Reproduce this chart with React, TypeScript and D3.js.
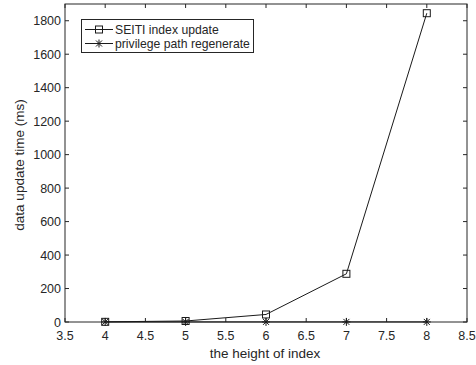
import React from "react";
import * as d3 from "d3";

const heights = [4, 5, 6, 7, 8];
const seitiUpdate = [1, 6, 45, 288, 1845];
const privilegeRegen = [0.5, 0.5, 0.5, 0.5, 0.5];
const xTicks = [3.5, 4, 4.5, 5, 5.5, 6, 6.5, 7, 7.5, 8, 8.5];
const yTicks = [0, 200, 400, 600, 800, 1000, 1200, 1400, 1600, 1800];
const seriesNames = ["SEITI index update", "privilege path regenerate"];

const W = 476;
const H = 365;
const left = 65;
const right = 467;
const top = 4;
const bottom = 322;
const axisColor = "#262626";
const lineColor = "#1a1a1a";
const font = "'Liberation Sans', Arial, sans-serif";

function Square({ x, y }: { x: number; y: number }) {
  return <rect x={x - 3.5} y={y - 3.5} width={7} height={7} fill="none" stroke={lineColor} strokeWidth={1} />;
}

function Star({ x, y }: { x: number; y: number }) {
  const r = 4;
  const d = r * 0.75;
  return (
    <g stroke={lineColor} strokeWidth={1}>
      <line x1={x - r} y1={y} x2={x + r} y2={y} />
      <line x1={x} y1={y - r} x2={x} y2={y + r} />
      <line x1={x - d} y1={y - d} x2={x + d} y2={y + d} />
      <line x1={x - d} y1={y + d} x2={x + d} y2={y - d} />
    </g>
  );
}

export default function App() {
  const x = d3.scaleLinear().domain([3.5, 8.5]).range([left, right]);
  const y = d3.scaleLinear().domain([0, 1900]).range([bottom, top]);
  const line = d3
    .line<number>()
    .x((_, i) => x(heights[i]))
    .y((v) => y(v));
  const tickLen = 4;

  return (
    <svg width={W} height={H} style={{ position: "absolute", left: 0, top: 0, background: "#fff" }}>
      <rect x={0} y={0} width={W} height={H} fill="#fff" />
      {/* frame */}
      <rect x={left} y={top} width={right - left} height={bottom - top} fill="none" stroke={axisColor} strokeWidth={1} />
      {/* x ticks */}
      {xTicks.map((t) => (
        <g key={"x" + t}>
          <line x1={x(t)} x2={x(t)} y1={bottom} y2={bottom - tickLen} stroke={axisColor} />
          <line x1={x(t)} x2={x(t)} y1={top} y2={top + tickLen} stroke={axisColor} />
          <text x={x(t)} y={340} textAnchor="middle" fontFamily={font} fontSize={12.5} fill={axisColor}>
            {t}
          </text>
        </g>
      ))}
      {/* y ticks */}
      {yTicks.map((t) => (
        <g key={"y" + t}>
          <line x1={left} x2={left + tickLen} y1={y(t)} y2={y(t)} stroke={axisColor} />
          <line x1={right} x2={right - tickLen} y1={y(t)} y2={y(t)} stroke={axisColor} />
          <text x={61} y={y(t) + 4.5} textAnchor="end" fontFamily={font} fontSize={12.5} fill={axisColor}>
            {t}
          </text>
        </g>
      ))}
      <text x={265} y={358} textAnchor="middle" fontFamily={font} fontSize={13.5} fill={axisColor}>
        the height of index
      </text>
      <text
        transform={`translate(24,165) rotate(-90)`}
        textAnchor="middle"
        fontFamily={font}
        fontSize={13.5}
        fill={axisColor}
      >
        data update time (ms)
      </text>
      {/* series */}
      <path d={line(seitiUpdate) || ""} fill="none" stroke={lineColor} strokeWidth={1} />
      <path d={line(privilegeRegen) || ""} fill="none" stroke={lineColor} strokeWidth={1} />
      {seitiUpdate.map((v, i) => (
        <Square key={"s" + i} x={x(heights[i])} y={y(v)} />
      ))}
      {privilegeRegen.map((v, i) => (
        <Star key={"p" + i} x={x(heights[i])} y={y(v)} />
      ))}
      {/* legend */}
      <rect x={81.5} y={19.5} width={172} height={33} fill="#fff" stroke={axisColor} strokeWidth={1} />
      <line x1={85} x2={113} y1={29.5} y2={29.5} stroke={lineColor} />
      <Square x={99} y={29.5} />
      <text x={115} y={33.8} fontFamily={font} fontSize={12.2} fill={axisColor}>
        {seriesNames[0]}
      </text>
      <line x1={85} x2={113} y1={43.5} y2={43.5} stroke={lineColor} />
      <Star x={99} y={43.5} />
      <text x={115} y={47.8} fontFamily={font} fontSize={12.2} fill={axisColor}>
        {seriesNames[1]}
      </text>
    </svg>
  );
}
